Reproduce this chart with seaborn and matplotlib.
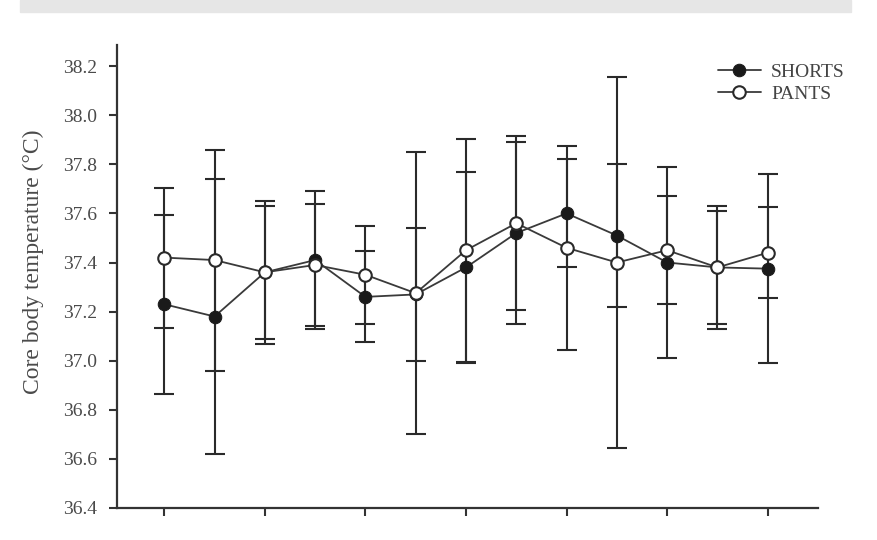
import seaborn as sns
import matplotlib
matplotlib.use("Agg")
import matplotlib.pyplot as plt
from matplotlib.patches import Rectangle
import numpy as np
import pandas as pd

# time points (13 measurements, ticks on every second one)
time_points = list(range(13))

shorts_mean = [37.23, 37.18, 37.36, 37.41, 37.26, 37.27, 37.38, 37.52, 37.60, 37.51, 37.40, 37.38, 37.375]
shorts_sd = [0.365, 0.56, 0.29, 0.28, 0.185, 0.27, 0.39, 0.37, 0.22, 0.29, 0.39, 0.25, 0.385]

pants_mean = [37.42, 37.41, 37.36, 37.39, 37.35, 37.275, 37.45, 37.56, 37.46, 37.40, 37.45, 37.38, 37.44]
pants_sd = [0.285, 0.45, 0.27, 0.25, 0.20, 0.575, 0.455, 0.355, 0.415, 0.755, 0.22, 0.23, 0.185]

y_ticks = [36.4, 36.6, 36.8, 37.0, 37.2, 37.4, 37.6, 37.8, 38.0, 38.2]

sns.set_style("ticks")
plt.rcParams['font.family'] = ['Liberation Serif', 'DejaVu Serif']

fig = plt.figure(figsize=(8.78, 5.40), dpi=100)
ax = fig.add_axes([117 / 878, 32 / 540, 701 / 878, 463 / 540])

# grey strip at the top of the scanned page
fig.patches.append(Rectangle((20 / 878, 1 - 12 / 540), 831 / 878, 12 / 540,
                             transform=fig.transFigure, color='#e6e6e6', zorder=0))

data = pd.DataFrame({'time': time_points,
                     'shorts': shorts_mean, 'shorts_sd': shorts_sd,
                     'pants': pants_mean, 'pants_sd': pants_sd})

# error bars (SD) behind the markers
ax.errorbar(data['time'], data['shorts'], yerr=data['shorts_sd'], fmt='none',
            ecolor='#2a2a2a', elinewidth=1.5, capsize=7, capthick=1.5, zorder=1)
ax.errorbar(data['time'], data['pants'], yerr=data['pants_sd'], fmt='none',
            ecolor='#2a2a2a', elinewidth=1.5, capsize=7, capthick=1.5, zorder=1)

sns.lineplot(data=data, x='time', y='shorts', ax=ax, color='#3a3a3a', linewidth=1.3,
             marker='o', markersize=9, markerfacecolor='#1a1a1a', markeredgecolor='#1a1a1a',
             label='SHORTS', zorder=3)
sns.lineplot(data=data, x='time', y='pants', ax=ax, color='#3a3a3a', linewidth=1.3,
             marker='o', markersize=9, markerfacecolor='white', markeredgecolor='#2a2a2a',
             markeredgewidth=1.5, label='PANTS', zorder=4)

ax.set_xlim(-0.94, 13.0)
ax.set_ylim(36.4, 38.286)
ax.set_xticks(time_points[::2])
ax.set_xticklabels([])
ax.set_yticks(y_ticks)
ax.set_yticklabels([f'{v:.1f}' for v in y_ticks], fontsize=14, color='#4a4a4a')
ax.set_xlabel('')
ax.set_ylabel('Core body temperature (°C)', fontsize=17, color='#4a4a4a')
ax.yaxis.set_label_coords(-0.104, 0.531)

sns.despine(ax=ax)
for side in ['left', 'bottom']:
    ax.spines[side].set_linewidth(1.6)
    ax.spines[side].set_color('#333333')
ax.tick_params(axis='both', direction='out', length=6, width=1.5, color='#333333')
ax.tick_params(axis='y', pad=8)

ax.legend(loc='upper left', bbox_to_anchor=(0.857, 0.961), frameon=False,
          fontsize=14, handlelength=2.2, handletextpad=0.55, labelspacing=0.24,
          borderpad=0, borderaxespad=0, labelcolor='#444444')

fig.savefig('out.png', dpi=100)
